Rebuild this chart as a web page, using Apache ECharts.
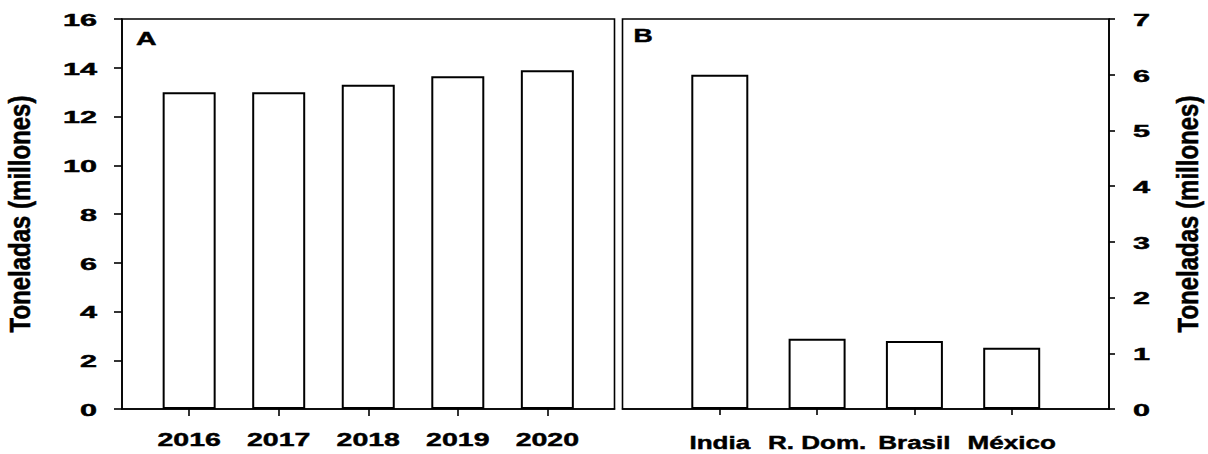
<!DOCTYPE html>
<html>
<head>
<meta charset="utf-8">
<script src="https://cdn.jsdelivr.net/npm/echarts@6/dist/echarts.min.js"></script>
<style>
  html, body { margin: 0; padding: 0; background: #fff; }
  #chart { width: 1208px; height: 454px; }
</style>
</head>
<body>
<div id="chart"></div>
<script>
// Panel A: production by year
const yearsA = ['2016', '2017', '2018', '2019', '2020'];
const valuesA = [13.0, 13.0, 13.3, 13.65, 13.9];
const ticksA = [0, 2, 4, 6, 8, 10, 12, 14, 16];

// Panel B: production by country
const countriesB = ['India', 'R. Dom.', 'Brasil', 'México'];
const valuesB = [6.0, 1.26, 1.22, 1.1];
const ticksB = [0, 1, 2, 3, 4, 5, 6, 7];

const yTitle = 'Toneladas (millones)';
const panelLabels = ['A', 'B'];

const FONT = '"Liberation Sans", Arial, Helvetica, sans-serif';
const INK = '#000';

const chart = echarts.init(document.getElementById('chart'), null, { renderer: 'svg' });

const line = { color: INK, width: 1.6 };
function xAxisCfg(gridIndex, min, max, n, tickLen) {
  const pos = [];
  for (let i = 1; i <= n; i++) pos.push(i);
  return {
    gridIndex, type: 'value', min, max,
    axisLine: { show: true, onZero: false, lineStyle: line },
    axisTick: { show: true, length: tickLen, customValues: pos, lineStyle: line },
    axisLabel: { show: false },
    splitLine: { show: false }
  };
}
function yAxisCfg(gridIndex, ticks, position, tickLen) {
  return {
    gridIndex, type: 'value', position,
    min: ticks[0], max: ticks[ticks.length - 1], interval: ticks[1] - ticks[0],
    axisLine: { show: true, onZero: false, lineStyle: line },
    axisTick: { show: true, length: tickLen, lineStyle: line },
    axisLabel: { show: false },
    splitLine: { show: false }
  };
}
const barStyle = { color: '#fff', borderColor: INK, borderWidth: 2 };

chart.setOption({
  animation: false,
  backgroundColor: '#fff',
  grid: [
    { left: 122, top: 19, width: 492.5, height: 390, show: true, borderColor: INK, borderWidth: 1.6 },
    { left: 622.5, top: 19, width: 486.5, height: 390, show: true, borderColor: INK, borderWidth: 1.6 }
  ],
  xAxis: [
    xAxisCfg(0, 0.25, 5.75, yearsA.length, 7),
    xAxisCfg(1, 0, 5, countriesB.length, 6)
  ],
  yAxis: [
    yAxisCfg(0, ticksA, 'left', 8),
    yAxisCfg(1, ticksB, 'right', 6)
  ],
  series: [
    {
      type: 'bar', xAxisIndex: 0, yAxisIndex: 0, barWidth: 53, silent: true,
      itemStyle: barStyle,
      data: valuesA.map((v, i) => [i + 1, v])
    },
    {
      type: 'bar', xAxisIndex: 1, yAxisIndex: 1, barWidth: 57, silent: true,
      itemStyle: barStyle,
      data: valuesB.map((v, i) => [i + 1, v])
    }
  ]
});

// Labels are drawn as widened bold text, placed from the axes' own pixel mapping.
function txt(text, x, y, size, opts) {
  const o = opts || {};
  return {
    type: 'text', x, y,
    rotation: o.rotation || 0,
    scaleX: o.scaleX || 1,
    scaleY: o.scaleY || 1,
    silent: true,
    style: {
      text, fill: INK, stroke: INK, lineWidth: 0.45,
      font: 'bold ' + size + 'px ' + FONT,
      textAlign: o.align || 'center', align: o.align || 'center',
      textVerticalAlign: 'middle', verticalAlign: 'middle'
    }
  };
}
function px(idx, pt) {
  return chart.convertToPixel({ xAxisIndex: idx, yAxisIndex: idx }, pt);
}

const els = [];
const leftEdgeA = px(0, [0.25, 0])[0];
const rightEdgeB = px(1, [5, 0])[0];
ticksA.forEach(v => {
  const y = px(0, [1, v])[1];
  els.push(txt(String(v), leftEdgeA - 25, y + 1, 17, { align: 'right', scaleX: 1.8 }));
});
ticksB.forEach(v => {
  const y = px(1, [1, v])[1];
  els.push(txt(String(v), rightEdgeB + 24, y + 1, 17, { align: 'left', scaleX: 1.8 }));
});
yearsA.forEach((name, i) => {
  const x = px(0, [i + 1, 0])[0];
  els.push(txt(name, x, 439, 19, { scaleX: 1.5 }));
});
countriesB.forEach((name, i) => {
  const x = px(1, [i + 1, 0])[0];
  els.push(txt(name, x, 442, 19, { scaleX: 1.37 }));
});
els.push(txt(yTitle, 20, 214, 24, { rotation: Math.PI / 2, scaleY: 1.2 }));
els.push(txt(yTitle, 1188, 214, 24, { rotation: Math.PI / 2, scaleY: 1.2 }));
els.push(txt(panelLabels[0], leftEdgeA + 14, 38, 19, { align: 'left', scaleX: 1.5 }));
els.push(txt(panelLabels[1], px(1, [0, 0])[0] + 11, 35, 19, { align: 'left', scaleX: 1.4 }));

chart.setOption({ graphic: { elements: els } });
</script>
</body>
</html>
